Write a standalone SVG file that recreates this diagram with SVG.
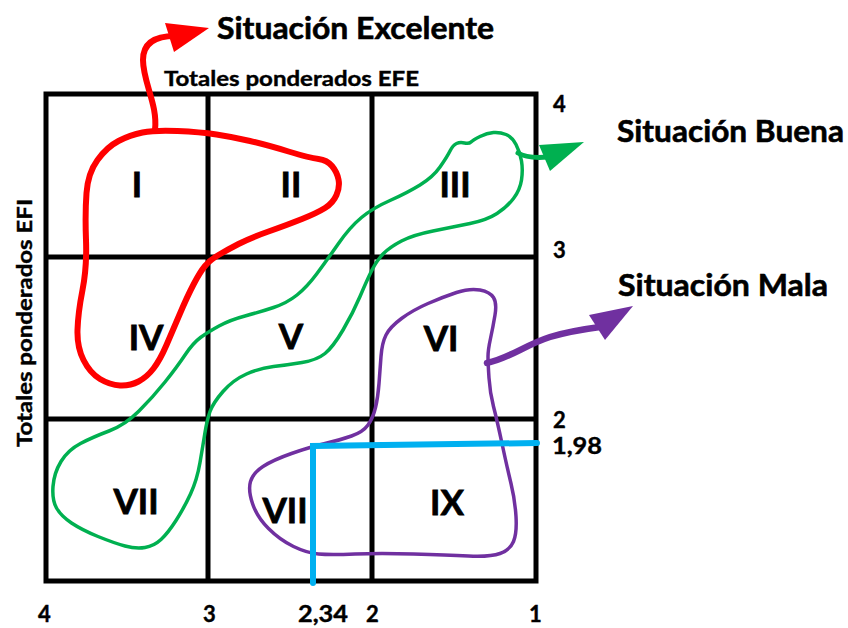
<svg xmlns="http://www.w3.org/2000/svg" width="848" height="628" viewBox="0 0 848 628">
<style>
  text { font-family: Lato, "Open Sans", "Liberation Sans", sans-serif; font-weight: bold; fill: #000; stroke: #000; stroke-width: 0.4; }
  .title { font-size: 31px; stroke-width: 0.6; }
  .axis { font-size: 21px; }
  .num { font-size: 22px; }
  .roman { font-size: 35px; text-anchor: middle; stroke-width: 0.8; }
  .grid { fill: none; stroke: #000; stroke-width: 5; }
  .red { fill: none; stroke: #ff0000; stroke-width: 6; stroke-linecap: round; stroke-linejoin: round; }
  .green { fill: none; stroke: #00b050; stroke-width: 3.5; stroke-linecap: round; stroke-linejoin: round; }
  .purple { fill: none; stroke: #7030a0; stroke-width: 3.5; stroke-linecap: round; stroke-linejoin: round; }
  .stem-green { fill: none; stroke: #00b050; stroke-width: 5; stroke-linecap: round; }
  .stem-purple { fill: none; stroke: #7030a0; stroke-width: 6.5; stroke-linecap: round; }
  .blue { fill: none; stroke: #00b0f0; stroke-width: 6; stroke-linecap: round; stroke-linejoin: miter; }
</style>
<rect width="848" height="628" fill="#fff"/>

<g id="grid">
  <rect class="grid" x="46" y="94" width="490" height="487"/>
  <line class="grid" x1="208" y1="94" x2="208" y2="581"/>
  <line class="grid" x1="372" y1="94" x2="372" y2="581"/>
  <line class="grid" x1="46" y1="257" x2="536" y2="257"/>
  <line class="grid" x1="46" y1="419" x2="536" y2="419"/>
</g>

<g id="cell-labels">
  <text class="roman" x="137" y="197">I</text>
  <text class="roman" x="291" y="197">II</text>
  <text class="roman" x="455" y="197">III</text>
  <text class="roman" x="146" y="350">IV</text>
  <text class="roman" x="291" y="349">V</text>
  <text class="roman" x="441" y="351">VI</text>
  <text class="roman" x="136" y="514">VII</text>
  <text class="roman" x="285" y="523">VII</text>
  <text class="roman" x="447" y="515">IX</text>
</g>

<g id="zona-excelente">
  <path class="red" d="M142.5,132.5 Q155,130 177.5,131 Q200,132 216.5,134.5 Q233,137 250,141 Q267,145 288.5,151.5 Q310,158 318.5,159 Q327,160 332,166 Q337,172 338.5,179.5 Q340,187 336.5,195 Q333,203 325,208 Q317,213 302,219 Q287,225 268.5,231.5 Q250,238 238.5,244 Q227,250 218.5,255 Q210,260 205,266 Q200,272 193.5,284.5 Q187,297 180,313.5 Q173,330 166.5,345 Q160,360 153.5,368.5 Q147,377 138.5,381.5 Q130,386 120,385.5 Q110,385 100,379 Q90,373 83.5,360 Q77,347 77.5,330 Q78,313 82.5,290 Q87,267 86,240 Q85,213 86.5,193 Q88,173 97.5,160 Q107,147 118.5,141 Q130,135 142.5,132.5 Z"/>
</g>

<g id="zona-buena">
  <path class="green" d="M456.5,143.5 Q460,142 464.5,143 Q469,144 471,142 Q473,140 480,136.5 Q487,133 493.5,132.5 Q500,132 506,134.5 Q512,137 516,144.5 Q520,152 521.5,161 Q523,170 521.5,180 Q520,190 513.5,198.5 Q507,207 497,213.5 Q487,220 470,223.5 Q453,227 433,231 Q413,235 401.5,241 Q390,247 383.5,253.5 Q377,260 372,270 Q367,280 360,296.5 Q353,313 343,330 Q333,347 325,353.5 Q317,360 302,362.5 Q287,365 273.5,366.5 Q260,368 246.5,374 Q233,380 223,391.5 Q213,403 210,411.5 Q207,420 205,432.5 Q203,445 200,462.5 Q197,480 190.5,494 Q184,508 176,520.5 Q168,533 161,539.5 Q154,546 145,547.5 Q136,549 125,546 Q114,543 98,536.5 Q82,530 71.5,523 Q61,516 56.5,508 Q52,500 53,486.5 Q54,473 61,461.5 Q68,450 80.5,443.5 Q93,437 109,431 Q125,425 139,411 Q153,397 165,382 Q177,367 185,355 Q193,343 200.5,337.5 Q208,332 219,326 Q230,320 245,316 Q260,312 273.5,307.5 Q287,303 297,295 Q307,287 317,273.5 Q327,260 338.5,243.5 Q350,227 361.5,217.5 Q373,208 390,200.5 Q407,193 420,185 Q433,177 440,167 Q447,157 450,151 Q453,145 456.5,143.5 Z"/>
</g>

<g id="zona-mala">
  <path class="purple" d="M456.5,292.5 Q470,288 480,290 Q490,292 493.5,297.5 Q497,303 495,315 Q493,327 490.5,338.5 Q488,350 488,356.5 Q488,363 489,378 Q490,393 493.5,406.5 Q497,420 502,443.5 Q507,467 511,483.5 Q515,500 516,516.5 Q517,533 513.5,541.5 Q510,550 500,553.5 Q490,557 468.5,556 Q447,555 413.5,554 Q380,553 355,554 Q330,555 318.5,554 Q307,553 293.5,546.5 Q280,540 268.5,528.5 Q257,517 252.5,503.5 Q248,490 250.5,481.5 Q253,473 263,466.5 Q273,460 291.5,453.5 Q310,447 325,443.5 Q340,440 351.5,436 Q363,432 368,425 Q373,418 375.5,407.5 Q378,397 379,383.5 Q380,370 381,356.5 Q382,343 386,335 Q390,327 401.5,318.5 Q413,310 428,303.5 Q443,297 456.5,292.5 Z"/>
</g>

<g id="connectors">
  <path class="red" d="M155,130 C158,105 143,82 143,60 C143,43 155,36 175,36"/>
  <polygon points="209,28 165,23 174,52" fill="#ff0000"/>
  <path class="stem-green" d="M518,153 C526,158 536,158 548,157"/>
  <polygon points="584,142 539,145 550,171" fill="#00b050"/>
  <path class="stem-purple" d="M487,363 C510,358 525,345 550,337 C570,331 585,329 600,327"/>
  <polygon points="633,306 589,315 605,340" fill="#7030a0"/>
</g>

<g id="punto-resultado">
  <path class="blue" d="M537,443 L313,446 L313,583"/>
</g>

<g id="labels">
  <text class="title" x="217" y="39" textLength="277" lengthAdjust="spacingAndGlyphs">Situación Excelente</text>
  <text class="title" x="617" y="142" textLength="227" lengthAdjust="spacingAndGlyphs">Situación Buena</text>
  <text class="title" x="618" y="296" textLength="210" lengthAdjust="spacingAndGlyphs">Situación Mala</text>
  <text class="axis" x="164" y="86" textLength="255" lengthAdjust="spacingAndGlyphs">Totales ponderados EFE</text>
  <text class="axis" transform="translate(32,323) rotate(-90)" x="0" y="0" text-anchor="middle" textLength="248" lengthAdjust="spacingAndGlyphs">Totales ponderados EFI</text>
  <text class="num" x="553" y="112">4</text>
  <text class="num" x="553" y="258">3</text>
  <text class="num" x="553" y="428">2</text>
  <text class="num" x="552" y="454" textLength="50" lengthAdjust="spacingAndGlyphs">1,98</text>
  <text class="num" x="38" y="622">4</text>
  <text class="num" x="203" y="622">3</text>
  <text class="num" x="298" y="622" textLength="50" lengthAdjust="spacingAndGlyphs">2,34</text>
  <text class="num" x="366" y="622">2</text>
  <text class="num" x="529" y="622">1</text>
</g>
</svg>
